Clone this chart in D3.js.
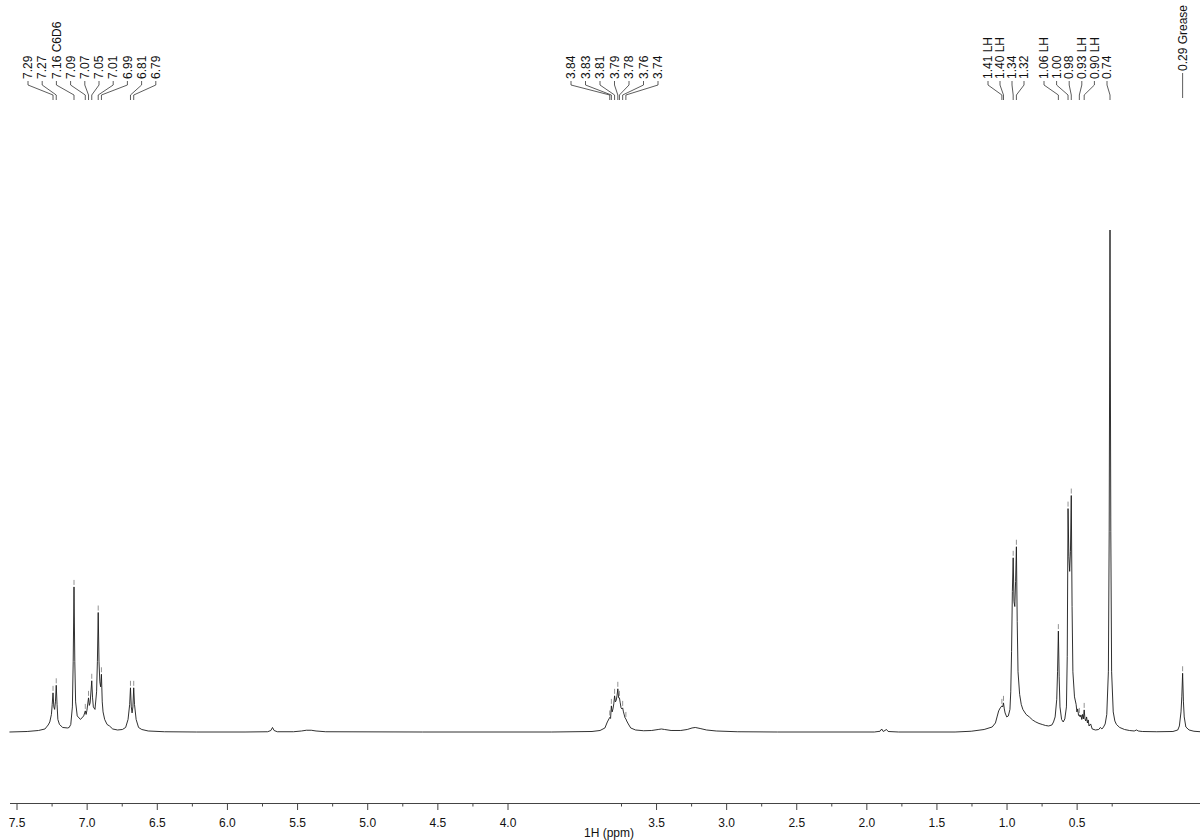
<!DOCTYPE html>
<html>
<head>
<meta charset="utf-8">
<script src="https://cdn.jsdelivr.net/npm/d3@7/dist/d3.min.js"></script>
<style>
  body { margin: 0; background: #fff; }
  svg { display: block; font-family: "Liberation Sans", Arial, sans-serif; }
</style>
</head>
<body>
<svg id="chart" width="1200" height="840"></svg>
<script>
// spectrum trace: chemical shift (ppm) and intensity (0.74 peak = 100)
const tracePpm = [
  7.56, 7.45, 7.38, 7.34, 7.33, 7.32, 7.31, 7.30, 7.295, 7.29, 7.285, 7.28, 7.275, 7.27, 7.265, 7.26, 7.25, 7.23, 7.20, 7.19,
  7.18, 7.17, 7.165, 7.16, 7.155, 7.15, 7.14, 7.12, 7.10, 7.09, 7.085, 7.08, 7.07, 7.065, 7.06, 7.05, 7.045, 7.04, 7.03, 7.02,
  7.015, 7.01, 7.005, 7.00, 6.995, 6.99, 6.985, 6.98, 6.97, 6.955, 6.94, 6.92, 6.89, 6.86, 6.84, 6.825, 6.815, 6.81, 6.805, 6.80,
  6.795, 6.79, 6.785, 6.775, 6.76, 6.74, 6.70, 6.60, 6.40, 6.10, 5.96, 5.94, 5.93, 5.92, 5.90, 5.80, 5.75, 5.72, 5.69, 5.66,
  5.60, 5.00, 4.20, 3.95, 3.90, 3.87, 3.855, 3.845, 3.84, 3.835, 3.83, 3.825, 3.82, 3.815, 3.81, 3.805, 3.80, 3.795, 3.79, 3.785,
  3.78, 3.775, 3.77, 3.765, 3.76, 3.755, 3.75, 3.745, 3.74, 3.735, 3.725, 3.71, 3.68, 3.63, 3.58, 3.54, 3.52, 3.50, 3.46, 3.40,
  3.36, 3.33, 3.31, 3.28, 3.24, 3.18, 3.05, 2.80, 2.20, 2.165, 2.155, 2.145, 2.125, 2.115, 2.05, 1.70, 1.60, 1.52, 1.47, 1.45,
  1.44, 1.43, 1.42, 1.41, 1.405, 1.40, 1.395, 1.39, 1.38, 1.37, 1.36, 1.355, 1.35, 1.345, 1.34, 1.335, 1.33, 1.325, 1.32, 1.315,
  1.31, 1.30, 1.29, 1.28, 1.26, 1.24, 1.22, 1.20, 1.18, 1.16, 1.14, 1.12, 1.10, 1.09, 1.08, 1.07, 1.065, 1.06, 1.055, 1.05,
  1.04, 1.03, 1.02, 1.01, 1.005, 1.00, 0.995, 0.99, 0.985, 0.98, 0.975, 0.97, 0.96, 0.95, 0.945, 0.94, 0.935, 0.93, 0.925, 0.92,
  0.915, 0.91, 0.905, 0.90, 0.895, 0.89, 0.885, 0.88, 0.875, 0.87, 0.86, 0.85, 0.83, 0.81, 0.80, 0.79, 0.78, 0.77, 0.76, 0.75,
  0.745, 0.74, 0.735, 0.73, 0.72, 0.71, 0.70, 0.68, 0.65, 0.62, 0.59, 0.575, 0.565, 0.54, 0.45, 0.35, 0.32, 0.31, 0.30, 0.295,
  0.29, 0.285, 0.28, 0.27, 0.25, 0.22, 0.18, 0.15
];
const traceInt = [
  0, 0.1, 0.3, 0.6, 1.0, 1.4, 2.0, 3.5, 5.5, 7.8, 5.0, 4.5, 6.0, 9.3, 5.5, 2.5, 1.5, 0.9, 0.8, 0.9,
  1.5, 5.0, 14, 28.9, 14, 6, 3.2, 2.5, 3.2, 4.2, 3.5, 4.3, 6.8, 5.3, 5.8, 10.2, 6.8, 5.0, 4.5, 8,
  14, 23.8, 14, 10, 9, 11.5, 6, 4, 2.5, 1.5, 1.2, 0.6, 0.4, 0.5, 0.9, 2.5, 5.5, 8.8, 5, 3.8,
  5, 8.8, 5.5, 2.5, 0.9, 0.5, 0.2, 0.05, 0, 0, 0.05, 0.3, 0.9, 0.3, 0.05, 0.05, 0.2, 0.35, 0.35, 0.2,
  0.05, 0, 0, 0.1, 0.3, 0.8, 2.0, 2.6, 2.9, 2.7, 5.2, 4.0, 4.6, 5.6, 7.2, 6, 6.3, 7.2, 8.6, 6.8,
  6.8, 5.8, 4.8, 4.6, 4.8, 4.0, 3.4, 2.8, 2.6, 2.2, 1.6, 0.8, 0.4, 0.25, 0.3, 0.5, 0.6, 0.5, 0.3, 0.3,
  0.5, 0.8, 0.9, 0.7, 0.4, 0.2, 0.05, 0, 0, 0.15, 0.6, 0.1, 0.5, 0.1, 0, 0, 0.15, 0.5, 1.0, 1.8,
  3.0, 4.2, 4.8, 5.2, 5.0, 5.8, 4.6, 3.8, 3.0, 3.2, 4.5, 8, 16, 28, 34.7, 26, 25, 30, 36.9, 22,
  12, 7.5, 5.5, 4.5, 3.5, 3.0, 2.4, 2.0, 1.7, 1.5, 1.3, 1.2, 1.4, 2.0, 3.0, 6.5, 12, 20.1, 11, 5,
  2.5, 2.0, 2.6, 5, 15, 44.5, 35, 32, 36, 47.1, 25, 12, 7, 5.5, 4.0, 4.6, 3.3, 3.4, 3.0, 3.4,
  2.5, 3.5, 2.6, 4.4, 2.6, 2.2, 3.0, 1.8, 2.4, 1.2, 1.6, 0.6, 0.4, 0.5, 0.9, 0.6, 1.0, 1.6, 3.5, 12,
  40, 100, 40, 12, 4, 2.2, 1.5, 0.9, 0.5, 0.3, 0.2, 0.4, 0.2, 0.1, 0.05, 0.1, 0.4, 1.2, 4, 7,
  11.7, 6, 3, 1.0, 0.4, 0.15, 0.05, 0
];

// peak labels
const labelPpm = [7.29, 7.27, 7.16, 7.09, 7.07, 7.05, 7.01, 6.99, 6.81, 6.79,
  3.84, 3.83, 3.81, 3.79, 3.78, 3.76, 3.74,
  1.41, 1.40, 1.34, 1.32, 1.06, 1.00, 0.98, 0.93, 0.90, 0.74, 0.29];
const labelText = ["7.29", "7.27", "7.16 C6D6", "7.09", "7.07", "7.05", "7.01", "6.99", "6.81", "6.79",
  "3.84", "3.83", "3.81", "3.79", "3.78", "3.76", "3.74",
  "1.41 LH", "1.40 LH", "1.34", "1.32", "1.06 LH", "1.00", "0.98", "0.93 LH", "0.90 LH", "0.74", "0.29 Grease"];
const labelGroup = [0, 0, 0, 0, 0, 0, 0, 0, 0, 0, 1, 1, 1, 1, 1, 1, 1, 2, 2, 2, 2, 3, 3, 3, 3, 3, 3, 4];

// axis ticks
const majorTicks = [7.5, 7.0, 6.5, 6.0, 5.5, 5.0, 4.5, 4.0, 3.5, 3.0, 2.5, 2.0, 1.5, 1.0, 0.5];
const minorTicks = [7.25, 6.75, 6.25, 5.75, 5.25, 4.75, 4.25, 3.75, 3.25, 2.75, 2.25, 1.75, 1.25, 0.75, 0.25];
const axisTitle = "1H (ppm)";

const svg = d3.select("#chart");

// spectrum scales
const x = d3.scaleLinear().domain([7.16, 0.74]).range([74, 1110]);
const y = d3.scaleLinear().domain([0, 100]).range([732, 230]);

// the axis in the picture is spaced differently from the trace
const xAxisScale = d3.scaleLinear()
  .domain([7.55, 4.0, 3.75, -0.38])
  .range([9.5, 507.5, 621, 1200]);

const axisY = 803;

// minor ticks
svg.append("g")
  .attr("transform", "translate(0," + axisY + ")")
  .call(d3.axisBottom(xAxisScale).tickValues(minorTicks).tickSize(3.5).tickSizeOuter(0).tickFormat(""))
  .call(g => g.select(".domain").remove())
  .call(g => g.selectAll("line").attr("stroke", "#444"));

// major ticks and line
svg.append("g")
  .attr("transform", "translate(0," + axisY + ")")
  .call(d3.axisBottom(xAxisScale).tickValues(majorTicks).tickSize(7).tickSizeOuter(0).tickPadding(8.5).tickFormat(d3.format(".1f")))
  .call(g => g.select(".domain").attr("stroke", "#444"))
  .call(g => g.selectAll("line").attr("stroke", "#444"))
  .call(g => g.selectAll("text").attr("fill", "#111").attr("font-size", 12)
    .attr("font-family", '"Liberation Sans", Arial, sans-serif'));

svg.append("text")
  .attr("x", 634)
  .attr("y", 837)
  .attr("text-anchor", "end")
  .attr("font-size", 12)
  .attr("fill", "#111")
  .text(axisTitle);

// spectrum
const trace = tracePpm.map((p, i) => [p, traceInt[i]]);
const line = d3.line()
  .x(d => x(d[0]))
  .y(d => y(d[1]));

svg.append("path")
  .datum(trace)
  .attr("fill", "none")
  .attr("stroke", "#1a1a1a")
  .attr("stroke-width", 0.9)
  .attr("stroke-linejoin", "round")
  .attr("d", line);

// label layout: where each group's first label sits and the spacing between labels
const groupStart = [28, 571, 988, 1044, 1182.6];
const groupStep = [14.2, 14.5, 12, 12.6, 0];
const groupIndex = labelGroup.map((g, i) => labelGroup.slice(0, i).filter(v => v === g).length);

const labels = labelPpm.map((p, i) => ({
  ppm: p,
  text: labelText[i],
  tx: groupStart[labelGroup[i]] + groupIndex[i] * groupStep[labelGroup[i]],
  px: x(p),
  top: y(traceInt[tracePpm.indexOf(p)]),
  single: labelGroup[i] === 4
}));

// small peak-pick marks just above each labelled peak
svg.append("g")
  .selectAll("line")
  .data(labels.filter(d => d.ppm !== 0.74))
  .join("line")
  .attr("x1", d => d.px).attr("x2", d => d.px)
  .attr("y1", d => d.top - 7).attr("y2", d => d.top - 2)
  .attr("stroke", "#777")
  .attr("stroke-width", 0.8);

const textEnd = 79;
const leader = d3.line();

svg.append("g")
  .selectAll("path")
  .data(labels)
  .join("path")
  .attr("fill", "none")
  .attr("stroke", "#333")
  .attr("stroke-width", 0.8)
  .attr("d", d => d.single
    ? leader([[d.px, 73], [d.px, 98]])
    : leader([[d.tx, 81], [d.tx, 85], [d.px, 95], [d.px, 100]]));

svg.append("g")
  .selectAll("text")
  .data(labels)
  .join("text")
  .attr("transform", d => d.single
    ? "translate(" + d.px + ",71) rotate(-90)"
    : "translate(" + d.tx + "," + textEnd + ") rotate(-90)")
  .attr("dy", "0.35em")
  .attr("text-anchor", "start")
  .attr("font-size", 12)
  .attr("fill", "#111")
  .text(d => d.text);
</script>
</body>
</html>
